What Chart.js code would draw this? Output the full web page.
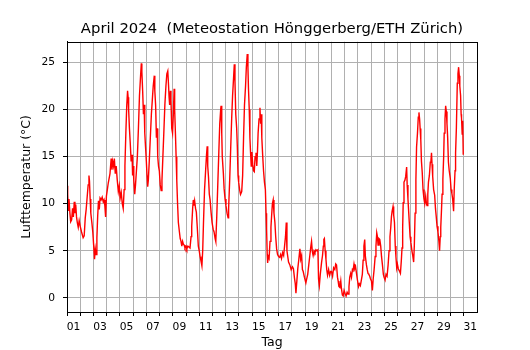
<!DOCTYPE html>
<html>
<head>
<meta charset="utf-8">
<script src="https://cdn.jsdelivr.net/npm/chart.js@4.4.1/dist/chart.umd.min.js"></script>
<style>
  html, body { margin: 0; padding: 0; background: #fff; }
</style>
</head>
<body>
<canvas id="chart" width="530" height="350"></canvas>
<script>
// Messzeitpunkte als Tag im Monat (1.0 = 1. April 00:00)
const tage = [
  1.00,1.05,1.10,1.15,1.22,1.28,1.35,1.42,1.48,1.55,1.60,1.66,1.72,1.78,1.85,1.92,2.00,2.10,2.22,2.30,2.38,2.45,2.53,2.60,2.66,2.70,2.75,2.80,2.88,2.95,
  3.02,3.08,3.14,3.20,3.26,3.32,3.38,3.44,3.50,3.58,3.66,3.74,3.80,3.86,3.92,3.98,4.05,4.12,4.25,4.34,4.40,4.45,4.52,4.58,4.65,4.72,4.80,4.88,4.95,
  5.02,5.10,5.18,5.25,5.32,5.38,5.45,5.52,5.58,5.62,5.66,5.72,5.78,5.85,5.92,5.96, 6.00,6.05,6.12,6.18,6.25,6.32,6.40,6.48,6.56,6.62,6.66,6.72,6.78,6.83,6.88,6.94,
  7.00,7.05,7.10,7.15,7.22,7.30,7.38,7.45,7.52,7.60,7.64,7.70,7.76,7.82,7.86,7.92,7.98, 8.05,8.12,8.18,8.25,8.32,8.40,8.48,8.55,8.62,8.68,8.72,8.76,8.82,8.86,8.92,8.98,
  9.04,9.10,9.14,9.20,9.25,9.30,9.36,9.42,9.50,9.56,9.62,9.68,9.74,9.80,9.86,9.92, 10.00,10.06,10.14,10.22,10.30,10.38,10.43,10.50,10.55,10.60,10.65,10.72,10.78,10.85,10.93,
  11.00,11.06,11.12,11.20,11.26,11.32,11.40,11.48,11.55,11.60,11.64,11.70,11.76,11.82,11.90,11.97, 12.05,12.12,12.20,12.25,12.32,12.40,12.48,12.55,12.62,12.65,12.70,12.74,12.82,12.88,12.95,
  13.02,13.10,13.18,13.22,13.30,13.38,13.45,13.52,13.60,13.65,13.70,13.76,13.83,13.88,13.93,13.98, 14.05,14.12,14.21,14.28,14.35,14.42,14.50,14.56,14.63,14.68,14.72,14.78,14.83,14.88,14.93,14.98,
  15.04,15.10,15.16,15.22,15.29,15.35,15.40,15.45,15.52,15.59,15.64,15.68,15.73,15.80,15.86,15.93, 16.00,16.05,16.09,16.14,16.17,16.22,16.28,16.35,16.42,16.47,16.53,16.59,16.65,16.72,16.78,16.85,16.92,
  17.00,17.08,17.15,17.22,17.30,17.38,17.45,17.52,17.58,17.63,17.68,17.75,17.85,17.95, 18.05,18.12,18.20,18.26,18.31,18.38,18.45,18.52,18.61,18.67,18.74,18.80,18.86,18.95,
  19.06,19.12,19.20,19.28,19.36,19.44,19.49,19.55,19.61,19.68,19.75,19.82,19.90,19.97, 20.02,20.08,20.15,20.25,20.32,20.38,20.42,20.46,20.52,20.58,20.64,20.70,20.78,20.86,20.93,
  21.00,21.08,21.16,21.25,21.32,21.38,21.45,21.50,21.56,21.63,21.70,21.75,21.82,21.88,21.95, 22.02,22.10,22.18,22.25,22.32,22.38,22.45,22.51,22.58,22.63,22.70,22.76,22.82,22.90,22.96,
  23.04,23.10,23.18,23.26,23.33,23.39,23.45,23.51,23.56,23.64,23.70,23.76,23.82,23.89,23.95, 24.02,24.09,24.15,24.22,24.30,24.36,24.42,24.47,24.52,24.59,24.65,24.72,24.78,24.85,24.92,24.97,
  25.05,25.12,25.20,25.28,25.35,25.42,25.48,25.53,25.58,25.65,25.70,25.76,25.82,25.87,25.93,25.98, 26.05,26.15,26.21,26.28,26.33,26.38,26.42,26.48,26.55,26.61,26.68,26.72,26.78,26.84,26.88,26.94,
  27.00,27.08,27.14,27.21,27.26,27.32,27.38,27.43,27.50,27.56,27.61,27.66,27.70,27.75,27.80,27.86,27.92,27.99, 28.05,28.12,28.18,28.22,28.28,28.33,28.40,28.47,28.52,28.56,28.60,28.65,28.72,28.80,28.86,28.92,28.98,
  29.05,29.12,29.17,29.22,29.26,29.32,29.36,29.42,29.48,29.52,29.58,29.63,29.68,29.73,29.78,29.84,29.90,29.98, 30.04,30.10,30.16,30.23,30.28,30.34,30.38,30.44,30.51,30.56,30.61,30.66,30.70,30.76,30.80,30.83,30.88,30.92,30.96
];

// Lufttemperatur in °C zu den Zeitpunkten oben
const temperaturen = [
  11.9,11.0,9.3,10.5,9.0,8.1,8.3,9.5,8.6,10.2,9.0,9.9,8.6,8.0,7.5,8.2,7.6,7.0,6.4,6.6,8.5,9.4,10.8,12.0,13.0,12.4,10.5,9.0,8.0,7.0,
  5.5,4.1,5.2,4.6,6.4,8.7,10.3,9.4,10.6,10.4,10.7,10.2,10.4,9.8,8.6,10.8,11.5,12.2,13.2,14.8,13.6,14.5,14.0,14.8,13.2,14.0,12.5,11.3,11.9,
  10.6,11.2,10.0,9.5,11.5,14.0,17.5,20.5,22.0,21.3,20.0,18.0,16.5,14.5,15.2,13.0, 14.0,12.5,11.0,12.0,13.5,15.0,18.0,21.5,23.5,24.9,24.0,22.0,19.5,20.5,17.5,16.0,
  14.5,13.0,11.8,12.5,14.5,17.0,19.5,21.0,22.5,23.6,22.0,20.5,17.0,18.0,15.0,14.0,13.5, 12.0,11.4,12.5,15.0,17.5,20.5,22.5,23.8,24.1,22.5,21.3,20.5,22.0,21.0,18.0,17.5,
  19.5,22.2,20.0,17.4,15.0,12.5,10.0,8.0,7.0,6.3,6.0,5.5,6.0,5.7,5.6,5.3, 5.5,5.2,5.5,5.4,5.3,6.5,7.6,9.5,10.4,9.8,10.3,9.5,9.1,7.5,5.5,
  5.0,4.4,4.0,3.4,5.0,8.0,11.5,13.5,15.2,16.1,14.0,12.8,11.0,10.4,9.0,8.0, 7.3,7.0,6.3,6.0,8.5,12.0,15.5,18.5,20.0,20.4,17.5,15.0,13.3,11.6,10.5,
  9.8,9.0,8.5,9.5,12.5,16.0,19.0,21.5,23.5,24.8,23.0,19.5,18.0,16.0,13.0,12.3, 11.5,11.0,11.3,13.0,17.0,20.5,22.5,24.5,25.9,24.5,22.3,20.0,17.0,15.4,14.0,15.5,
  14.2,13.5,13.4,15.0,15.4,14.0,15.5,17.5,19.0,20.2,18.5,19.5,17.0,15.0,13.5,12.3, 11.5,9.0,7.3,4.5,3.7,4.4,4.2,6.0,7.5,8.7,10.0,10.4,9.0,8.0,6.5,5.2,4.6,
  4.4,4.3,4.6,4.2,4.8,4.5,5.5,6.5,8.0,5.0,4.5,3.8,3.5,3.0, 3.3,3.1,2.1,1.5,0.5,1.8,3.1,4.0,5.2,4.1,4.5,3.0,2.8,2.2,
  1.6,2.0,2.5,3.5,4.5,5.5,6.0,4.9,4.5,5.0,4.8,5.1,5.0,5.1, 2.0,1.3,2.5,3.8,4.5,5.5,6.2,6.3,5.0,4.1,3.0,2.4,3.0,2.4,2.8,
  2.8,2.3,3.2,3.0,3.6,3.5,2.2,1.8,1.2,1.1,1.8,1.0,0.3,0.2,0.8, 0.5,0.2,0.6,0.4,1.2,2.2,2.6,2.2,3.0,2.9,3.6,3.1,3.3,2.5,1.9,
  1.2,1.5,1.3,1.9,2.5,4.0,5.5,6.2,4.4,3.5,3.0,2.6,2.5,2.3,2.0, 1.8,0.8,2.0,3.0,4.4,5.5,6.9,6.5,5.6,6.3,6.2,5.5,4.4,3.5,2.5,2.2,
  1.9,2.5,2.3,3.5,5.0,6.5,7.5,8.6,9.2,9.7,8.8,8.0,5.5,4.4,3.2,3.6, 3.1,2.8,2.6,4.0,5.3,7.5,10.1,12.3,12.5,12.9,13.9,12.0,10.5,9.0,8.0,6.5,
  5.9,5.0,4.5,3.8,5.5,9.0,12.5,16.0,17.5,19.2,19.7,19.0,18.0,16.8,14.5,13.3,11.5,10.5, 10.0,10.8,10.0,9.8,11.0,12.3,13.0,14.4,14.6,15.4,14.2,12.9,11.5,10.9,9.5,8.6,7.6,
  7.0,6.0,5.0,6.5,7.5,9.5,11.0,12.6,15.0,17.5,19.0,20.4,19.8,18.5,17.1,14.4,13.5,12.7, 11.5,11.1,10.5,9.2,11.6,13.5,15.4,18.0,22.8,23.8,24.5,23.6,22.5,21.5,19.5,19.1,17.4,18.8,15.2
];

// Achsenticks
const tagTicks = [1,2,3,4,5,6,7,8,9,10,11,12,13,14,15,16,17,18,19,20,21,22,23,24,25,26,27,28,29,30,31];
const tempTicks = [0, 5, 10, 15, 20, 25];

const schrift = 'DejaVu Sans';

// Rahmen rund um den Plotbereich (oben und rechts fehlen sonst)
const rahmen = {
  id: 'rahmen',
  afterDatasetsDraw(chart) {
    const { ctx, chartArea: a } = chart;
    ctx.save();
    ctx.strokeStyle = '#000';
    ctx.lineWidth = 1;
    ctx.strokeRect(Math.round(a.left) + 0.5, Math.round(a.top) + 0.5,
      Math.round(a.right - a.left), Math.round(a.bottom - a.top));
    ctx.restore();
  }
};

const punkte = tage.map((t, i) => ({ x: t, y: temperaturen[i] }));

new Chart(document.getElementById('chart'), {
  type: 'line',
  data: {
    datasets: [{
      data: punkte,
      borderColor: '#ff0000',
      borderWidth: 1.4,
      pointRadius: 0,
      tension: 0
    }]
  },
  options: {
    responsive: false,
    animation: false,
    layout: { padding: { left: 0, right: 53, top: 0, bottom: 0 } },
    plugins: {
      legend: { display: false },
      tooltip: { enabled: false },
      title: {
        display: true,
        fullSize: false,
        text: 'April 2024  (Meteostation Hönggerberg/ETH Zürich)',
        color: '#000',
        font: { family: schrift, size: 14.8, weight: 'normal' },
        padding: { top: 20, bottom: 4 }
      }
    },
    scales: {
      x: {
        type: 'linear',
        min: 1,
        max: 32,
        afterBuildTicks: s => { s.ticks = tagTicks.map(v => ({ value: v })); },
        afterFit: s => { s.height = 38; },
        grid: { color: '#b0b0b0', tickColor: '#000', tickLength: 4, lineWidth: 1 },
        border: { color: '#000', width: 1 },
        ticks: {
          autoSkip: false,
          maxRotation: 0,
          labelOffset: 6.6,
          padding: 5,
          color: '#000',
          font: { family: schrift, size: 10.7 },
          callback: v => (v % 2 === 1 ? String(v).padStart(2, '0') : '')
        },
        title: {
          display: true,
          text: 'Tag',
          color: '#000',
          font: { family: schrift, size: 12.5, lineHeight: 1.1 },
          padding: { top: 0, bottom: 0 }
        }
      },
      y: {
        min: -1.5,
        max: 27.2,
        afterBuildTicks: s => { s.ticks = tempTicks.map(v => ({ value: v })); },
        afterFit: s => { s.width = 67; },
        grid: { color: '#b0b0b0', tickColor: '#000', tickLength: 4, lineWidth: 1 },
        border: { color: '#000', width: 1 },
        ticks: {
          padding: 8,
          color: '#000',
          font: { family: schrift, size: 10.7 }
        },
        title: {
          display: true,
          text: 'Lufttemperatur (°C)',
          color: '#000',
          font: { family: schrift, size: 12.5 },
          padding: { top: 19, bottom: 0 }
        }
      }
    }
  },
  plugins: [rahmen]
});
</script>
</body>
</html>
